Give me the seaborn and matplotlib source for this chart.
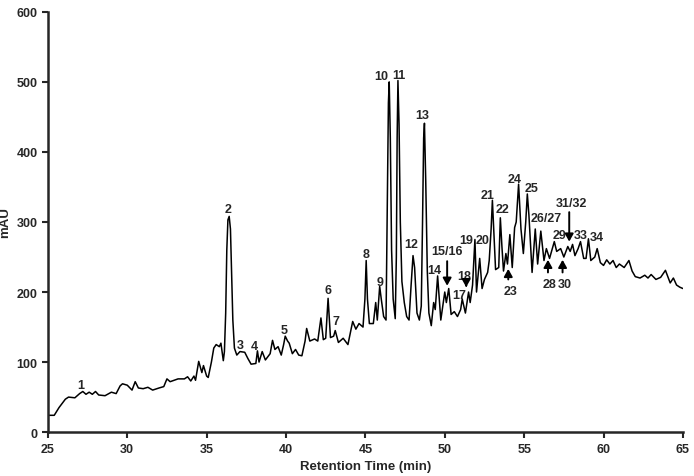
import matplotlib
matplotlib.use("Agg")
import matplotlib.pyplot as plt
import pandas as pd
import seaborn as sns

# chromatogram trace (retention time, absorbance)
rt_min = [25.0, 25.4, 25.7, 26.1, 26.3, 26.7, 27.0, 27.2, 27.4, 27.6, 27.8, 28.0, 28.2, 28.6,
          29.0, 29.3, 29.55, 29.7, 30.0, 30.3, 30.5, 30.7, 31.0, 31.3, 31.6, 32.0, 32.3, 32.5,
          32.7, 33.2, 33.6, 33.8, 34.0, 34.2, 34.3, 34.5, 34.7, 34.8, 35.0, 35.1, 35.3, 35.45,
          35.6, 35.8, 35.9, 36.05, 36.12, 36.2, 36.27, 36.34, 36.42, 36.5, 36.57, 36.65, 36.75,
          36.9, 37.1, 37.4, 37.6, 37.8, 38.1, 38.2, 38.3, 38.5, 38.7, 39.0, 39.15, 39.3, 39.5,
          39.7, 39.85, 39.95, 40.1, 40.2, 40.4, 40.6, 40.8, 41.0, 41.2, 41.3, 41.5, 41.8, 42.0,
          42.2, 42.35, 42.5, 42.65, 42.8, 43.0, 43.1, 43.3, 43.6, 43.9, 44.2, 44.4, 44.6, 44.85,
          44.97, 45.05, 45.13, 45.25, 45.5, 45.65, 45.75, 45.9, 46.0, 46.15, 46.3, 46.38, 46.45,
          46.5, 46.57, 46.65, 46.75, 46.88, 46.95, 47.0, 47.05, 47.12, 47.2, 47.3, 47.45, 47.6,
          47.75, 47.88, 48.0, 48.1, 48.25, 48.4, 48.52, 48.6, 48.67, 48.72, 48.8, 48.9, 49.0,
          49.15, 49.3, 49.4, 49.55, 49.75, 50.0, 50.1, 50.25, 50.4, 50.6, 50.8, 51.0, 51.1,
          51.3, 51.5, 51.6, 51.75, 51.9, 52.0, 52.2, 52.35, 52.5, 52.7, 52.8, 52.92, 53.0, 53.1,
          53.2, 53.4, 53.5, 53.6, 53.7, 53.85, 53.95, 54.1, 54.25, 54.4, 54.5, 54.65, 54.8,
          54.95, 55.1, 55.2, 55.3, 55.4, 55.5, 55.7, 55.85, 56.05, 56.25, 56.4, 56.6, 56.9,
          57.05, 57.3, 57.5, 57.75, 57.9, 58.05, 58.2, 58.4, 58.55, 58.75, 58.9, 59.05, 59.2,
          59.45, 59.6, 59.8, 60.0, 60.2, 60.4, 60.6, 60.8, 61.0, 61.3, 61.6, 61.8, 62.0, 62.3,
          62.6, 62.8, 63.0, 63.3, 63.6, 63.9, 64.2, 64.4, 64.6, 64.8, 65.0]
mau = [24, 24, 35, 47, 50, 49, 55, 58, 54, 57, 54, 58, 53, 52,
       57, 55, 66, 69, 67, 60, 72, 63, 62, 64, 60, 63, 65, 76,
       72, 76, 76, 79, 73, 80, 74, 101, 85, 95, 80, 78, 100, 120,
       125, 122, 127, 102, 115, 170, 260, 303, 308, 290, 230, 160, 120,
       110, 115, 114, 105, 97, 98, 116, 100, 115, 103, 112, 131, 118, 122,
       110, 125, 137, 130, 127, 112, 118, 110, 109, 130, 148, 130, 133, 130,
       163, 132, 134, 191, 135, 137, 145, 128, 134, 125, 158, 147, 155, 150,
       190, 245, 190, 155, 155, 185, 160, 208, 190, 165, 160, 320, 470,
       500, 420, 260, 190, 162, 250, 420, 502, 440, 300, 215, 185, 165,
       160, 210, 252, 235, 170, 160, 180, 300, 420, 441, 360, 230, 170,
       152, 185, 175, 223, 160, 200, 185, 205, 168, 172, 165, 175, 190,
       170, 200, 185, 210, 275, 200, 248, 205, 218, 228, 245, 290, 331, 280,
       232, 235, 306, 265, 230, 255, 240, 282, 235, 292, 300, 354, 290,
       255, 300, 340, 310, 270, 228, 290, 240, 287, 245, 262, 248, 272,
       258, 262, 250, 265, 258, 268, 252, 262, 272, 248, 248, 276, 245,
       250, 262, 242, 238, 246, 240, 245, 235, 240, 235, 245, 230, 222, 220,
       224, 220, 225, 218, 221, 231, 213, 220, 210, 207, 205]

# peak labels and where they sit
peak_labels = ["1", "2", "3", "4", "5", "6", "7", "8", "9", "10", "11", "12", "13", "14",
               "15/16", "17", "18", "19", "20", "21", "22", "23", "24", "25", "26/27",
               "28", "29", "30", "31/32", "33", "34"]
label_x = [27.07, 36.32, 37.1, 38.0, 39.9, 42.66, 43.17, 45.04, 45.9, 46.0, 47.13, 47.86, 48.6,
           49.37, 50.15, 50.88, 51.2, 51.33, 52.39, 52.67, 53.65, 54.12, 54.4, 55.46, 56.4,
           56.6, 57.2, 57.59, 57.98, 58.54, 59.57]
label_y = [67, 318, 124, 123, 146, 203, 158, 255, 215, 509, 510, 268, 453, 232, 258, 196,
           223, 275, 275, 338, 318, 202, 362, 349, 305, 212, 281, 212, 327, 281, 278]

# arrows: (x, tail, tip)
arrow_x = [50.15, 51.35, 54.0, 56.5, 57.42, 57.84]
arrow_from = [248, 214, 214, 224, 224, 318]
arrow_to = [205, 203, 237, 250, 250, 268]

sns.set_style("ticks")
plt.rcParams.update({
    "font.family": ["Liberation Sans", "DejaVu Sans"],
    "font.weight": "bold",
    "axes.labelweight": "bold",
})

df = pd.DataFrame({"Retention Time (min)": rt_min, "mAU": mau})

fig = plt.figure(figsize=(6.94, 4.77), dpi=100)
ax = fig.add_axes([0.069, 0.092, 0.915, 0.881])
sns.lineplot(data=df, x="Retention Time (min)", y="mAU", ax=ax, color="black", lw=1.1)

for lab, x, y in zip(peak_labels, label_x, label_y):
    ax.text(x, y, lab, ha="center", va="center", fontsize=9, fontweight="bold")

for x, y0, y1 in zip(arrow_x, arrow_from, arrow_to):
    ax.annotate("", xy=(x, y1), xytext=(x, y0),
                arrowprops=dict(arrowstyle="-|>,head_width=0.25,head_length=0.45",
                                lw=1.4, color="black"))

ax.set_xlim(25, 65)
ax.set_ylim(0, 600)
ax.set_xticks(range(25, 66, 5))
ax.set_yticks(range(0, 601, 100))
ax.set_xlabel("Retention Time (min)", fontsize=9.5)
ax.set_ylabel("mAU", fontsize=9.5, labelpad=4)
ax.tick_params(direction="out", length=4, width=1.5, labelsize=9)
for side in ["left", "bottom"]:
    ax.spines[side].set_linewidth(1.8)
sns.despine(ax=ax)

fig.savefig("out.png", dpi=100)
